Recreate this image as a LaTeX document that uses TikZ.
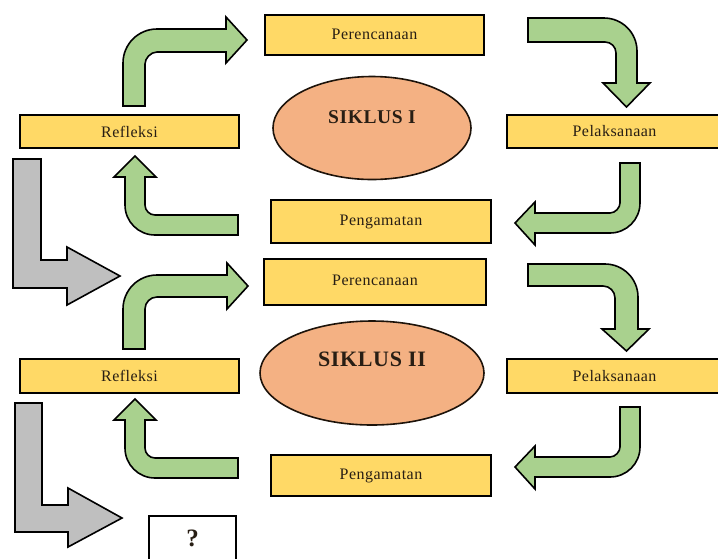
\documentclass[tikz,border=0pt]{standalone}
\usepackage{fontspec}
\setmainfont{Liberation Serif}[LetterSpace=3]
\usetikzlibrary{shapes.geometric}
\definecolor{boxyellow}{RGB}{255,217,102}
\definecolor{arrowgreen}{RGB}{169,209,142}
\definecolor{ovalorange}{RGB}{244,177,131}
\definecolor{arrowgray}{RGB}{191,191,191}
\definecolor{labeltext}{RGB}{40,30,20}
\begin{document}
\begin{tikzpicture}[x=1pt,y=-1pt,
  stagebox/.style={draw=black, line width=1.6pt, fill=boxyellow, rectangle, inner sep=0pt, text=labeltext, font=\fontsize{16}{18}\selectfont},
  cyclebubble/.style={draw=black!85!brown, line width=1.6pt, fill=ovalorange, ellipse, inner sep=0pt},
  cycletitle/.style={inner sep=0pt, text=labeltext, font=\bfseries},
  greenarrow/.style={draw=black, line width=1.6pt, fill=arrowgreen, line join=miter},
  grayarrow/.style={draw=black, line width=1.6pt, fill=arrowgray, line join=miter},
]
\useasboundingbox (0,0) rectangle (718,558);
\clip (0,0) rectangle (718,558);

% ---------- Cycle I ----------
\node[stagebox, minimum width=219pt, minimum height=40pt] (per1) at (374.5,35) {\raisebox{2pt}{Perencanaan}};
\node[stagebox, minimum width=219pt, minimum height=33pt] (ref1) at (129.5,131.5) {Refleksi};
\node[stagebox, minimum width=215pt, minimum height=33pt] (pel1) at (614.5,131.5) {Pelaksanaan};
\node[stagebox, minimum width=220pt, minimum height=43pt] (pen1) at (381,221.5) {\raisebox{2pt}{Pengamatan}};
\node[cyclebubble, minimum width=198pt, minimum height=103pt] (sik1) at (372,128) {};
\node[cycletitle, font=\fontsize{19.5}{22}\selectfont\bfseries] (sik1t) at (372,117) {SIKLUS I};

% Refleksi -> Perencanaan
\draw[greenarrow] (123,106) -- (123,63) .. controls (123,44.2) and (138.2,29) .. (157,29) -- (226,29) -- (226,17) -- (247,40) -- (226,63) -- (226,52) -- (157,52) .. controls (150.4,52) and (145,58.6) .. (145,64) -- (145,106) -- cycle;
% Perencanaan -> Pelaksanaan
\draw[greenarrow] (528,18) -- (604,18) .. controls (622.2,18) and (637,32.8) .. (637,51) -- (637,83) -- (650,83) -- (626.5,107) -- (603,83) -- (616,83) -- (616,53) .. controls (616,46.9) and (611.1,42) .. (605,42) -- (528,42) -- cycle;
% Pelaksanaan -> Pengamatan
\draw[greenarrow] (620,163) -- (640,163) -- (640,203) .. controls (640,219.6) and (626.6,233) .. (610,233) -- (535,233) -- (535,245) -- (515,223) -- (535,202) -- (535,213) -- (610,213) .. controls (615.5,213) and (620,207.5) .. (620,203) -- cycle;
% Pengamatan -> Refleksi
\draw[greenarrow] (238,235) -- (155,235) .. controls (138.4,235) and (125,221.6) .. (125,205) -- (125,177) -- (114,177) -- (135,156) -- (156,177) -- (145,177) -- (145,205) .. controls (145,210.5) and (149.5,215) .. (155,215) -- (238,215) -- cycle;

% Cycle I -> Cycle II
\draw[grayarrow] (13,159) -- (41,159) -- (41,260) -- (67,260) -- (67,247) -- (120,276) -- (67,305) -- (67,288) -- (13,288) -- cycle;

% ---------- Cycle II ----------
\node[stagebox, minimum width=222pt, minimum height=46pt] (per2) at (375,282) {\raisebox{3pt}{Perencanaan}};
\node[stagebox, minimum width=219pt, minimum height=34pt] (ref2) at (129.5,376) {Refleksi};
\node[stagebox, minimum width=215pt, minimum height=34pt] (pel2) at (614.5,376) {Pelaksanaan};
\node[stagebox, minimum width=220pt, minimum height=41pt] (pen2) at (381,475.5) {\raisebox{2pt}{Pengamatan}};
\node[cyclebubble, minimum width=224pt, minimum height=104pt] (sik2) at (372,373) {};
\node[cycletitle, font=\fontsize{22}{24}\selectfont\bfseries] (sik2t) at (372,359) {SIKLUS II};

% Refleksi -> Perencanaan
\draw[greenarrow] (123,349) -- (123,309) .. controls (123,290.2) and (138.2,275) .. (157,275) -- (227,275) -- (227,263) -- (248,286) -- (227,309) -- (227,297) -- (157,297) .. controls (150.4,297) and (145,302.4) .. (145,309) -- (145,349) -- cycle;
% Perencanaan -> Pelaksanaan
\draw[greenarrow] (528,264) -- (605,264) .. controls (623.2,264) and (638,278.8) .. (638,297) -- (638,329) -- (649,329) -- (626.5,351) -- (602,329) -- (615,329) -- (615,298) .. controls (615,291.4) and (609.6,286) .. (603,286) -- (528,286) -- cycle;
% Pelaksanaan -> Pengamatan
\draw[greenarrow] (620,407) -- (640,407) -- (640,447) .. controls (640,463.6) and (626.6,477) .. (610,477) -- (535,477) -- (535,489) -- (515,467) -- (535,446) -- (535,457) -- (610,457) .. controls (615.5,457) and (620,451.5) .. (620,447) -- cycle;
% Pengamatan -> Refleksi
\draw[greenarrow] (238,478) -- (155,478) .. controls (138.4,478) and (125,464.6) .. (125,448) -- (125,420) -- (114,420) -- (135,399) -- (156,420) -- (145,420) -- (145,448) .. controls (145,453.5) and (149.5,458) .. (155,458) -- (238,458) -- cycle;

% Cycle II -> next
\draw[grayarrow] (15,403) -- (42,403) -- (42,505) -- (68,505) -- (68,488) -- (122,518) -- (68,547) -- (68,532) -- (15,532) -- cycle;

\node[draw=black, line width=1.6pt, fill=white, rectangle, inner sep=0pt, minimum width=87pt, minimum height=60pt] (qbox) at (192.5,546) {};
\node[inner sep=0pt, text=labeltext, font=\fontsize{25}{27}\selectfont\bfseries] (qmark) at (192.5,538) {?};
\end{tikzpicture}
\end{document}
